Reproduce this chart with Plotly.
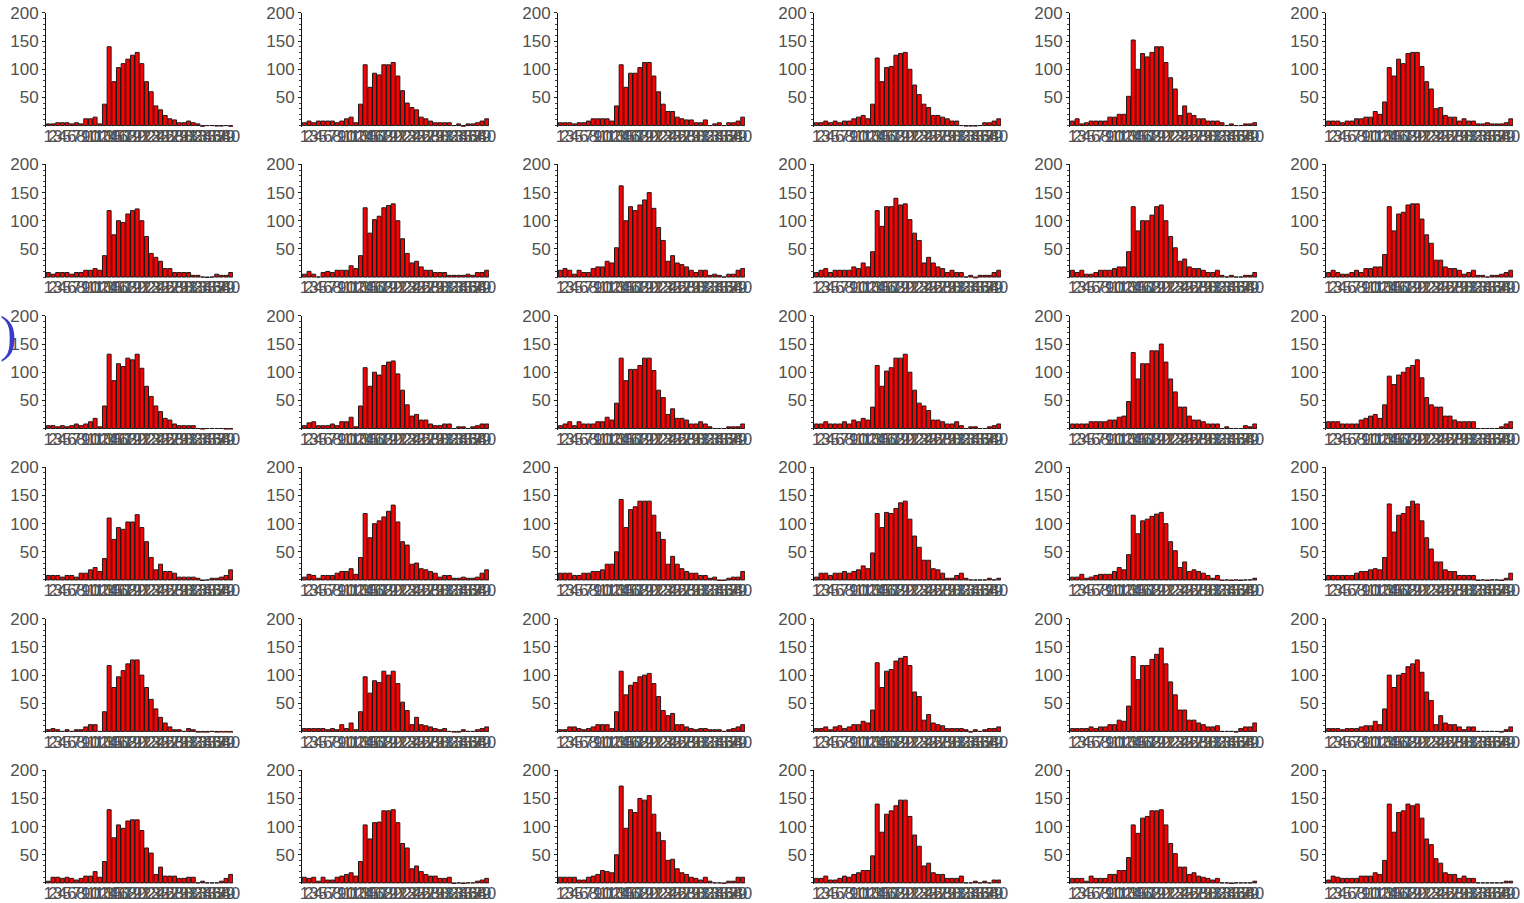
import plotly.graph_objects as go

categories = list(range(1, 41))
tick_labels = [str(i) for i in categories]
y_tick_values = [50, 100, 150, 200]

r1c1 = [3,3,5,5,5,3,5,3,12,12,15,3,38,140,78,103,110,118,125,130,110,78,60,35,28,18,12,10,5,5,8,5,3,-2,0,0,-1,-1,0,-2]
r1c2 = [5,8,5,8,8,8,8,5,8,12,15,5,38,108,68,93,90,108,108,112,88,62,40,32,28,15,12,8,5,5,5,5,0,3,-2,3,3,5,8,12]
r1c3 = [5,5,5,3,5,5,8,12,12,12,12,8,35,108,68,93,93,103,112,112,88,60,38,25,25,15,12,10,10,5,5,10,0,3,5,0,5,5,8,15]
r1c4 = [5,5,8,5,8,5,8,8,12,15,18,12,38,120,78,103,105,125,128,130,100,72,55,38,32,18,18,15,12,8,8,0,-1,-1,-1,0,5,5,8,12]
r1c5 = [8,12,3,5,8,8,8,8,15,15,20,20,52,152,100,128,122,130,140,140,112,85,65,18,35,22,18,12,12,8,8,8,5,0,3,0,0,3,3,5]
r1c6 = [8,8,8,5,8,8,12,12,15,15,25,20,42,103,88,118,110,128,130,130,105,78,65,30,32,18,15,15,8,12,8,8,3,3,5,3,3,3,5,12]

r2c1 = [8,5,8,8,8,5,8,8,12,12,15,12,38,118,75,100,97,112,118,121,100,72,42,35,28,15,15,8,8,8,8,3,3,0,-1,0,5,3,3,8]
r2c2 = [5,10,5,0,8,10,8,12,12,12,20,15,38,123,78,102,108,123,127,130,100,68,42,25,28,18,12,12,8,8,8,3,3,3,3,5,3,8,8,12]
r2c3 = [12,15,12,5,12,8,8,15,18,18,28,25,52,162,100,125,118,128,137,150,122,88,65,28,38,25,22,18,12,8,12,12,3,5,3,0,5,5,12,15]
r2c4 = [8,12,15,8,12,12,12,12,18,15,25,18,45,118,90,125,125,140,128,130,102,78,65,25,35,25,18,15,8,12,8,8,0,3,-3,3,3,3,8,12]
r2c5 = [12,8,12,5,5,8,12,12,12,15,18,18,45,125,82,100,100,110,125,128,100,72,52,28,32,18,15,15,12,8,8,12,3,0,3,0,0,3,3,8]
r2c6 = [8,12,8,5,5,8,12,8,15,15,18,18,40,125,82,112,115,128,130,130,103,75,60,30,30,18,15,15,12,5,8,12,3,3,0,3,3,5,8,12]

r3c1 = [5,5,3,5,3,5,8,5,8,12,18,3,40,132,85,115,110,125,122,132,107,75,57,40,30,18,15,8,5,5,5,5,0,-3,0,0,0,0,-3,-3]
r3c2 = [5,10,12,5,5,5,8,5,12,12,20,3,40,108,75,100,95,112,118,120,97,68,42,22,25,15,15,8,5,5,8,8,0,3,3,0,3,5,8,8]
r3c3 = [5,8,12,5,12,8,8,8,12,12,20,15,45,125,85,105,105,112,125,125,103,68,55,25,35,18,18,15,8,8,12,8,3,0,0,0,3,3,3,8]
r3c4 = [8,8,12,8,8,8,12,8,15,12,18,15,38,112,75,102,108,125,125,132,100,68,45,40,32,15,15,12,8,8,12,5,0,3,3,0,0,3,5,8]
r3c5 = [8,8,8,8,12,12,12,12,15,15,20,22,48,135,88,115,115,138,138,150,118,88,65,38,38,22,15,15,12,8,8,8,0,3,0,0,0,5,3,8]
r3c6 = [12,12,12,8,8,8,8,15,18,22,25,18,42,93,78,95,100,108,112,122,90,55,42,38,38,22,22,15,12,12,12,12,0,0,0,0,0,3,8,12]

r4c1 = [8,8,8,5,8,8,5,12,12,18,22,15,38,110,72,93,90,103,103,116,93,68,40,18,28,15,15,12,5,5,5,5,3,-2,0,3,3,5,8,18]
r4c2 = [5,10,8,3,8,8,8,12,15,15,20,10,40,118,75,100,105,112,122,133,103,68,62,28,30,20,18,15,12,5,8,8,3,3,5,3,3,5,12,18]
r4c3 = [12,12,12,8,8,12,12,15,15,18,28,28,50,143,93,125,130,140,140,140,115,85,72,28,42,28,20,15,12,12,8,8,3,5,-2,-2,3,5,5,15]
r4c4 = [5,12,12,8,12,12,15,12,15,18,25,20,48,118,93,120,118,127,137,140,108,78,58,35,35,20,18,12,3,3,8,12,3,0,0,0,0,3,0,3]
r4c5 = [5,5,10,3,5,8,10,10,10,15,22,18,45,115,82,105,108,113,117,120,100,68,52,22,32,15,18,15,12,8,3,8,-3,0,-3,0,-2,0,0,3]
r4c6 = [8,8,8,8,8,8,12,15,15,18,20,18,40,135,85,115,118,130,140,135,105,75,55,32,32,18,15,15,8,8,8,8,-2,0,-3,0,0,-2,3,12]

r5c1 = [3,5,3,0,3,0,3,3,8,12,12,0,35,117,78,97,108,120,127,127,100,78,57,40,25,15,8,3,3,0,5,3,-2,-3,-2,0,-2,-5,-5,-3]
r5c2 = [5,5,5,5,5,3,5,3,12,5,15,3,35,97,68,90,87,107,100,107,85,52,37,12,25,12,10,8,5,3,5,0,-3,-2,3,0,0,3,5,8]
r5c3 = [3,3,8,8,5,3,5,8,12,12,12,5,35,107,65,82,87,97,100,103,85,62,37,28,32,12,12,8,5,3,5,5,3,3,3,0,3,5,8,12]
r5c4 = [5,5,8,3,8,10,5,8,12,12,18,15,38,122,78,107,110,125,130,133,117,70,62,20,30,15,12,10,5,5,5,5,3,-2,3,0,3,5,5,8]
r5c5 = [5,5,5,5,8,5,8,8,12,12,20,18,45,133,92,117,117,128,137,148,120,88,65,38,38,20,20,15,12,8,8,10,0,0,0,-2,5,8,8,15]
r5c6 = [5,5,5,3,5,5,5,8,10,10,18,12,40,100,78,100,103,115,120,127,105,70,55,12,28,15,12,12,8,3,8,8,0,0,0,0,0,-2,3,8]

r6c1 = [3,10,10,8,10,8,5,8,12,12,20,10,38,130,80,103,97,110,112,112,93,62,53,15,28,12,12,12,8,8,10,10,0,3,0,0,0,3,8,15]
r6c2 = [10,8,10,3,10,5,5,10,12,15,18,12,38,103,78,107,108,128,128,130,107,70,62,25,30,20,15,12,12,8,8,10,-2,0,-2,0,0,3,5,8]
r6c3 = [10,10,10,10,5,5,10,12,15,22,20,18,50,172,97,130,125,150,147,155,122,90,75,40,42,25,18,15,10,8,5,10,3,0,0,-3,3,3,10,10]
r6c4 = [8,8,12,5,5,8,12,10,15,18,22,22,48,140,90,122,128,137,147,147,118,85,65,30,35,18,15,15,8,8,8,12,0,0,3,0,3,0,5,5]
r6c5 = [8,8,8,3,12,8,8,8,15,15,22,22,45,103,88,115,118,128,128,130,103,70,52,28,28,15,18,12,10,8,5,8,0,0,-2,0,0,0,0,3]
r6c6 = [5,12,10,8,8,8,8,12,12,12,18,15,40,140,90,125,128,140,137,140,115,78,68,43,35,18,15,15,8,12,8,8,0,0,0,0,0,0,3,3]

panels = [
    [r1c1, r1c2, r1c3, r1c4, r1c5, r1c6],
    [r2c1, r2c2, r2c3, r2c4, r2c5, r2c6],
    [r3c1, r3c2, r3c3, r3c4, r3c5, r3c6],
    [r4c1, r4c2, r4c3, r4c4, r4c5, r4c6],
    [r5c1, r5c2, r5c3, r5c4, r5c5, r5c6],
    [r6c1, r6c2, r6c3, r6c4, r6c5, r6c6],
]

W, H = 1524, 903
Y_MIN, Y_MAX = -2, 200

# Photographed page maps figure pixels slightly (measured with calibration marks):
# shown_x = SX * fig_x ; shown_y = OY + SY * fig_y. Invert to place targets.
SX, SY, OY = 0.994, 0.988, 7.0


def fx(shown_x):
    return (shown_x / SX) / W


def fy(shown_y):
    return 1 - ((shown_y - OY) / SY) / H


SHOWN_PX_PER_UNIT = 0.56

fig = go.Figure()
tick_font = dict(family="Liberation Sans, Arial, sans-serif", size=17, color="#505050")
layout = dict(
    width=W, height=H,
    margin=dict(l=0, r=0, t=0, b=0),
    paper_bgcolor="white", plot_bgcolor="white",
    showlegend=False,
    bargap=0.15,
    font=tick_font,
)

n = 0
for r in range(6):
    for c in range(6):
        n += 1
        vals = panels[r][c]
        xname = "x" if n == 1 else f"x{n}"
        yname = "y" if n == 1 else f"y{n}"
        fig.add_trace(go.Bar(
            x=categories, y=vals, xaxis=xname, yaxis=yname,
            marker=dict(color="#ff0000", line=dict(color="#1a1a1a", width=1)),
            hoverinfo="x+y",
        ))
        left_px = 44 + 256 * c
        right_px = left_px + 187
        top_px = 11 + 152 * r
        zero_px = 124 + 152 * r
        bottom_px = zero_px + (0 - Y_MIN) * SHOWN_PX_PER_UNIT
        xkey = "xaxis" if n == 1 else f"xaxis{n}"
        ykey = "yaxis" if n == 1 else f"yaxis{n}"
        layout[xkey] = dict(
            domain=[fx(left_px), fx(right_px)],
            anchor=yname,
            range=[0.5, 40.5],
            tickmode="array", tickvals=categories, ticktext=tick_labels,
            tickangle=0, ticks="", showline=False, showgrid=False, zeroline=False,
            tickfont=tick_font, ticklabelstandoff=-3,
        )
        layout[ykey] = dict(
            domain=[fy(bottom_px), fy(top_px)],
            anchor=xname,
            range=[Y_MIN, Y_MAX],
            tickmode="array", tickvals=y_tick_values,
            ticks="outside", ticklen=3, tickcolor="#222", tickwidth=1,
            minor=dict(ticks="outside", ticklen=2, dtick=10, tickcolor="#444", tickwidth=1),
            showline=True, linecolor="#111", linewidth=1,
            showgrid=False, zeroline=False,
            tickfont=tick_font,
        )

fig.update_layout(**layout)

fig.add_annotation(
    text=")", xref="paper", yref="paper",
    x=0, y=fy(333), xanchor="left", yanchor="middle", xshift=-4,
    showarrow=False,
    font=dict(family="Liberation Serif, DejaVu Serif, serif", size=50, color="#3a3acc"),
)

fig.write_html("out.html")
